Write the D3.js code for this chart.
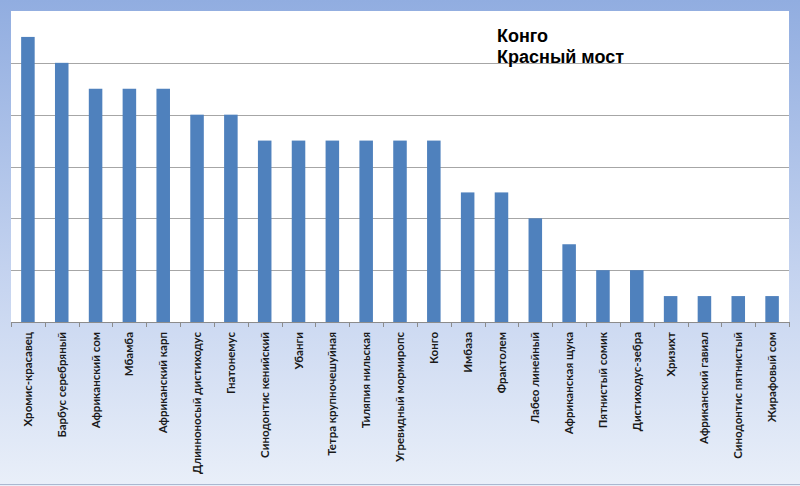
<!DOCTYPE html>
<html>
<head>
<meta charset="utf-8">
<script src="https://cdn.jsdelivr.net/npm/d3@7"></script>
<style>
  body { margin: 0; padding: 0; background: #fff; }
  svg { display: block; }
  .x-axis text { font-family: Lato, "Open Sans", sans-serif; font-weight: 700; font-size: 11.5px; fill: #1a1a1a; }
  .title { font-family: "Liberation Sans", Arial, sans-serif; font-weight: 700; font-size: 18px; fill: #000; }
</style>
</head>
<body>
<div id="chart"></div>
<script>

// categories and values
var fishNames = ["Хромис-красавец", "Барбус серебряный", "Африканский сом", "Мбамба",
    "Африканский карп", "Длинноносый дистиходус", "Гнатонемус", "Синодонтис кенийский",
    "Убанги", "Тетра крупночешуйная", "Тиляпия нильская", "Угревидный мормиропс",
    "Конго", "Имбаза", "Фрактолем", "Лабео линейный", "Африканская щука",
    "Пятнистый сомик", "Дистиходус-зебра", "Хризихт", "Африканский гавиал",
    "Синодонтис пятнистый", "Жирафовый сом"];
var fishScores = [5.5, 5, 4.5, 4.5, 4.5, 4, 4, 3.5, 3.5, 3.5, 3.5, 3.5,
    3.5, 2.5, 2.5, 2, 1.5, 1, 1, 0.5, 0.5, 0.5, 0.5];
var gridTicks = [1, 2, 3, 4, 5];
var titleLines = ["Конго", "Красный мост"];

var W = 800, H = 486;
var plot = { left: 11, top: 11, right: 789, bottom: 322 };

var svg = d3.select("#chart").append("svg")
    .attr("width", W)
    .attr("height", H);

// background gradient
var defs = svg.append("defs");
var grad = defs.append("linearGradient")
    .attr("id", "bg")
    .attr("x1", 0).attr("y1", 0).attr("x2", 0).attr("y2", 1);
grad.append("stop").attr("offset", "0%").attr("stop-color", "#91ade0");
grad.append("stop").attr("offset", "55%").attr("stop-color", "#c3d2ef");
grad.append("stop").attr("offset", "100%").attr("stop-color", "#e9eff9");

svg.append("rect")
    .attr("width", W).attr("height", H)
    .attr("fill", "url(#bg)");

svg.append("line")
    .attr("x1", 0).attr("x2", W)
    .attr("y1", H - 1.5).attr("y2", H - 1.5)
    .attr("stroke", "#aab8d0");

// plot area
svg.append("rect")
    .attr("x", plot.left).attr("y", plot.top)
    .attr("width", plot.right - plot.left)
    .attr("height", plot.bottom - plot.top)
    .attr("fill", "#fff");

var x = d3.scaleBand()
    .domain(fishNames)
    .range([plot.left, plot.right])
    .paddingInner(0.6)
    .paddingOuter(0.3);

var xOuter = d3.scaleBand()
    .domain(fishNames)
    .range([plot.left, plot.right]);

var y = d3.scaleLinear()
    .domain([0, 6])
    .range([plot.bottom, plot.top]);

// gridlines
svg.append("g")
    .selectAll("line")
    .data(gridTicks)
    .enter().append("line")
    .attr("x1", plot.left).attr("x2", plot.right)
    .attr("y1", function(d) { return Math.round(y(d)) + 0.5; })
    .attr("y2", function(d) { return Math.round(y(d)) + 0.5; })
    .attr("stroke", "#a6a6a6")
    .attr("stroke-width", 1);

// bars
svg.append("g")
    .selectAll("rect")
    .data(fishScores)
    .enter().append("rect")
    .attr("x", function(d, i) { return x(fishNames[i]); })
    .attr("y", function(d) { return y(d); })
    .attr("width", x.bandwidth())
    .attr("height", function(d) { return y(0) - y(d); })
    .attr("fill", "#4f81bd");

// x axis (ticks at band boundaries)
var tickPos = fishNames.map(function(d) { return xOuter(d); }).concat([plot.right]);
var axisG = svg.append("g").attr("class", "x-axis");

axisG.append("line")
    .attr("x1", plot.left).attr("x2", plot.right)
    .attr("y1", plot.bottom + 0.5).attr("y2", plot.bottom + 0.5)
    .attr("stroke", "#8c8c8c");

axisG.selectAll("line.tick")
    .data(tickPos)
    .enter().append("line")
    .attr("class", "tick")
    .attr("x1", function(d) { return Math.round(d) + 0.5; })
    .attr("x2", function(d) { return Math.round(d) + 0.5; })
    .attr("y1", plot.bottom)
    .attr("y2", plot.bottom + 5)
    .attr("stroke", "#8c8c8c");

axisG.selectAll("text")
    .data(fishNames)
    .enter().append("text")
    .attr("transform", function(d) {
        return "translate(" + (xOuter(d) + xOuter.bandwidth() / 2) + "," + (plot.bottom + 10) + ") rotate(-90)";
    })
    .attr("dy", "0.35em")
    .attr("text-anchor", "end")
    .text(function(d) { return d; });

// title
svg.append("g")
    .selectAll("text")
    .data(titleLines)
    .enter().append("text")
    .attr("class", "title")
    .attr("x", 497)
    .attr("y", function(d, i) { return 42 + i * 21; })
    .text(function(d) { return d; });

</script>
</body>
</html>
